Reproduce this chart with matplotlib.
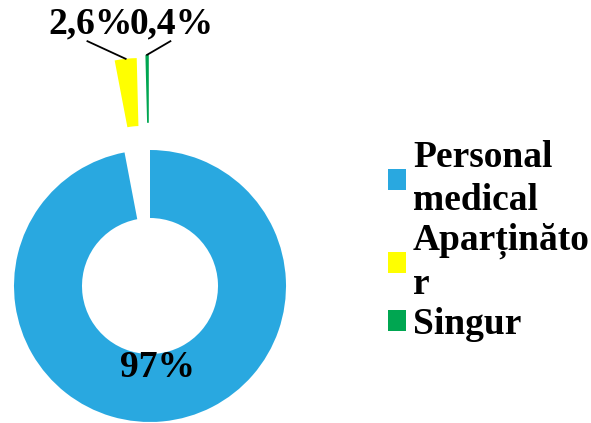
import numpy as np
import matplotlib
matplotlib.use("Agg")
import matplotlib.pyplot as plt
from matplotlib.patches import Patch

labels = ["Personal\nmedical", "Aparținăto\nr", "Singur"]
values = [97, 2.6, 0.4]
pct_text = ["97%", "2,6%", "0,4%"]
colors = ["#29A8E0", "#FFFF00", "#00A651"]
explode = [0, 0.68, 0.70]

plt.rcParams['font.family'] = ['Liberation Serif', 'DejaVu Serif']
plt.rcParams['font.weight'] = 'bold'

fig = plt.figure(figsize=(5.91, 4.23), dpi=100)
ax = fig.add_axes([0, 0, 1, 1])

wedges, _ = ax.pie(values, colors=colors, explode=explode, startangle=90,
                   counterclock=False, wedgeprops=dict(width=0.5, linewidth=0))

# pixel layout: centre at (150, 286) from top-left, radius 136 px
s = 136.0
ax.set_xlim(-150 / s, (591 - 150) / s)
ax.set_ylim(-(423 - 286) / s, 286 / s)
ax.set_aspect('auto')
ax.axis('off')

fs = 27

# big slice label inside the ring
w = wedges[0]
mid = np.deg2rad((w.theta1 + w.theta2) / 2)
ax.text(w.center[0] + 0.6 * np.cos(mid), w.center[1] + 0.6 * np.sin(mid),
        pct_text[0], ha='center', va='center', fontsize=fs, fontweight='bold')

# small slices: labels above with leader lines
text_pos = [None, (-0.44, 1.93), (0.16, 1.93)]
line_start = [None, (-0.46, 1.80), (0.15, 1.80)]
for i in (1, 2):
    w = wedges[i]
    mid = np.deg2rad((w.theta1 + w.theta2) / 2)
    tip = (w.center[0] + w.r * np.cos(mid), w.center[1] + w.r * np.sin(mid))
    ax.text(text_pos[i][0], text_pos[i][1], pct_text[i], ha='center', va='center',
            fontsize=fs, fontweight='bold')
    ax.plot([line_start[i][0], tip[0]], [line_start[i][1], tip[1]],
            color='black', lw=1.3, clip_on=False)

handles = [Patch(facecolor=c, edgecolor='none') for c in colors]
leg = fig.legend(handles, labels, loc='center left', bbox_to_anchor=(0.6565, 0.43),
                 frameon=False, handlelength=0.47, handleheight=0.47,
                 handletextpad=0.2, labelspacing=0.12, borderpad=0, borderaxespad=0,
                 prop=dict(weight='bold', size=fs))
for t in leg.get_texts():
    t.set_linespacing(1.3)

fig.savefig("out.png", dpi=100)
